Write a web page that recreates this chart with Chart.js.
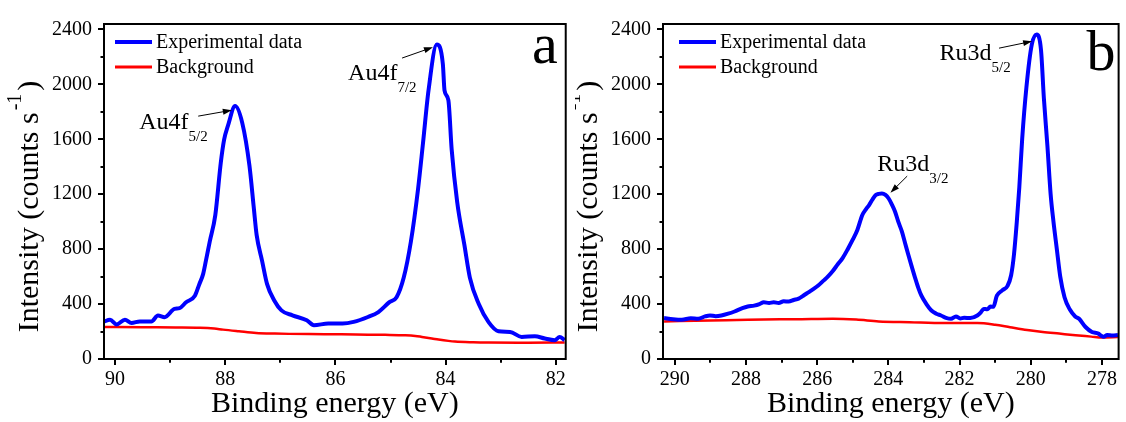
<!DOCTYPE html>
<html>
<head>
<meta charset="utf-8">
<script src="https://cdn.jsdelivr.net/npm/chart.js@4.4.1/dist/chart.umd.min.js"></script>
<style>
  body { margin: 0; background: #fff; }
  #wrap { position: relative; width: 1126px; height: 422px; background: #fff; }
  canvas { position: absolute; top: 0; }
</style>
</head>
<body>
<div id="wrap">
  <canvas id="chart-a" width="575" height="422" style="left:0"></canvas>
  <canvas id="chart-b" width="551" height="422" style="left:575px"></canvas>
</div>
<script>
// --- Data ---

const yTicks = [0, 400, 800, 1200, 1600, 2000, 2400];
const xTicksA = [90, 88, 86, 84, 82];
const xTicksB = [290, 288, 286, 284, 282, 280, 278];

// Panel a: Au4f
const auEnergy = [90.21, 90.09, 89.97, 89.82, 89.70, 89.55, 89.34, 89.22, 89.10, 88.92, 88.83, 88.71, 88.55, 88.47,
  88.40, 88.34, 88.28, 88.18, 88.08, 88.02, 87.95, 87.82, 87.69, 87.56, 87.48, 87.43, 87.33, 87.24, 87.11, 86.98,
  86.78, 86.52, 86.39, 86.13, 85.87, 85.67, 85.41, 85.22, 85.02, 84.89, 84.76, 84.63, 84.50, 84.41, 84.31, 84.16,
  84.05, 84.02, 83.95, 83.89, 83.79, 83.66, 83.56, 83.40, 83.22, 83.04, 82.83, 82.62, 82.38, 82.20, 82.02, 81.93, 81.84];
const auCounts = [270, 286, 252, 286, 262, 274, 274, 317, 305, 365, 370, 413, 461, 545,
  620, 737, 856, 1048, 1431, 1598, 1700, 1842, 1718, 1407, 1096, 904, 713, 545, 426, 354,
  318, 282, 246, 258, 258, 270, 306, 342, 414, 450, 593, 856, 1239, 1574, 1957, 2290,
  2148, 1957, 1885, 1526, 1144, 833, 593, 402, 269, 202, 197, 161, 166, 149, 137, 161, 137];
const auBgEnergy = [90.21, 89.5, 88.9, 88.46, 88.2, 88.04, 87.75, 87.44, 87.1, 86.84, 86.2, 85.63, 85.1, 84.73,
  84.55, 84.43, 84.25, 84.13, 83.95, 83.83, 83.5, 83.22, 82.5, 81.84];
const auBgCounts = [233, 231, 230, 228, 222, 214, 202, 190, 185, 183, 181, 178, 176, 173,
  168, 161, 150, 142, 132, 127, 122, 120, 119, 120];

// Panel b: Ru3d
const ruEnergy = [290.30, 290.05, 289.80, 289.55, 289.34, 289.15, 289.01, 288.85, 288.69, 288.50, 288.32, 288.10,
  287.95, 287.77, 287.62, 287.50, 287.35, 287.22, 287.08, 286.94, 286.80, 286.66, 286.52, 286.39, 286.25, 286.11,
  285.97, 285.83, 285.70, 285.56, 285.42, 285.28, 285.14, 285.00, 284.87, 284.73, 284.63, 284.54, 284.45, 284.36,
  284.27, 284.18, 284.08, 283.99, 283.90, 283.81, 283.72, 283.62, 283.53, 283.44, 283.35, 283.25, 283.16, 283.07,
  282.93, 282.79, 282.65, 282.52, 282.38, 282.24, 282.10, 281.98, 281.87, 281.70, 281.50, 281.40, 281.32, 281.22,
  281.13, 281.05, 280.95, 280.80, 280.65, 280.55, 280.47, 280.39, 280.32, 280.24, 280.12, 279.97, 279.83, 279.71,
  279.63, 279.53, 279.44, 279.36, 279.27, 279.17, 279.05, 278.90, 278.75, 278.64, 278.46, 278.28, 278.10, 278.02,
  277.95, 277.85, 277.70, 277.55];
const ruCounts = [298, 290, 286, 296, 293, 310, 317, 312, 317, 330, 346, 370,
  382, 389, 400, 413, 408, 413, 408, 420, 418, 430, 440, 461, 485, 509,
  535, 569, 600, 641, 690, 737, 800, 869, 940, 1049, 1090, 1121, 1160, 1193,
  1203, 1205, 1195, 1169, 1125, 1073, 1000, 929, 845, 761, 680, 593, 520, 461,
  400, 353, 330, 317, 300, 293, 310, 295, 300, 298, 317, 340, 365, 362,
  382, 380, 461, 500, 533, 610, 760, 1000, 1250, 1600, 1980, 2290, 2364, 2250,
  1900, 1550, 1200, 1000, 809, 600, 450, 360, 310, 293, 233, 197, 185, 170,
  162, 175, 172, 175];
const ruBgEnergy = [290.30, 289.0, 287.95, 286.5, 285.56, 284.9, 284.27, 283.4, 282.42, 281.5, 281.0, 280.58,
  280.1, 279.66, 279.2, 278.74, 278.3, 278.0, 277.55];
const ruBgCounts = [274, 280, 286, 290, 293, 287, 274, 268, 262, 262, 250, 232,
  212, 197, 185, 173, 163, 156, 160];

// Peak labels: text anchor, arrow tail and arrow tip in data units
const auNotes = [
  { main: 'Au4f', sub: '5/2', at: [89.56, 1676], from: [88.49, 1769], to: [87.88, 1812] },
  { main: 'Au4f', sub: '7/2', at: [85.77, 2030], from: [84.79, 2192], to: [84.23, 2271] },
];
const ruNotes = [
  { main: 'Ru3d', sub: '5/2', at: [282.56, 2178], from: [280.89, 2264], to: [279.96, 2314] },
  { main: 'Ru3d', sub: '3/2', at: [284.31, 1368], from: [283.47, 1332], to: [283.94, 1211] },
];

const SERIF = "'Liberation Serif', 'Times New Roman', serif";

function toPoints(xs, ys) {
  return xs.map((v, i) => ({ x: v, y: ys[i] }));
}

// Frame, minor ticks, legend, labels and y title
const decorPlugin = {
  id: 'decor',
  afterDraw(chart, args, opts) {
    const { ctx, chartArea: area } = chart;
    const xs = chart.scales.x;
    const ys = chart.scales.y;
    ctx.save();

    // box
    ctx.strokeStyle = '#000';
    ctx.lineWidth = 2;
    ctx.strokeRect(area.left, area.top, area.right - area.left, area.bottom - area.top);

    // x ticks (major + minor, outside)
    const xStep = Math.abs(opts.xTicks[0] - opts.xTicks[1]);
    opts.xTicks.forEach(v => {
      [[v, 6], [v - xStep / 2, 3.5], [v + xStep / 2, 3.5]].forEach(([t, len]) => {
        if (t < xs.min || t > xs.max) return;
        const px = Math.round(xs.getPixelForValue(t));
        ctx.beginPath();
        ctx.moveTo(px, area.bottom);
        ctx.lineTo(px, area.bottom + len);
        ctx.stroke();
      });
    });
    // y ticks
    const yStep = yTicks[1] - yTicks[0];
    yTicks.forEach(v => {
      [[v, 6], [v + yStep / 2, 3.5]].forEach(([t, len]) => {
        if (t < ys.min || t > ys.max) return;
        const py = Math.round(ys.getPixelForValue(t));
        ctx.beginPath();
        ctx.moveTo(area.left - len, py);
        ctx.lineTo(area.left, py);
        ctx.stroke();
      });
    });

    // legend inside plot
    ctx.font = `20px ${SERIF}`;
    ctx.textBaseline = 'middle';
    ctx.fillStyle = '#000';
    chart.data.datasets.forEach((ds, i) => {
      const ly = area.top + 18 + i * 25;
      ctx.strokeStyle = ds.borderColor;
      ctx.lineWidth = i === 0 ? 4 : 3;
      ctx.beginPath();
      ctx.moveTo(area.left + opts.legendX, ly);
      ctx.lineTo(area.left + opts.legendX + 37, ly);
      ctx.stroke();
      ctx.fillText(ds.label, area.left + opts.legendX + 41, ly + 1);
    });

    // peak labels with arrows
    ctx.textBaseline = 'alphabetic';
    ctx.strokeStyle = '#000';
    ctx.fillStyle = '#000';
    opts.notes.forEach(n => {
      const tx = xs.getPixelForValue(n.at[0]);
      const ty = ys.getPixelForValue(n.at[1]);
      ctx.font = `24px ${SERIF}`;
      ctx.fillText(n.main, tx, ty);
      const w = ctx.measureText(n.main).width;
      ctx.font = `15px ${SERIF}`;
      ctx.fillText(n.sub, tx + w, ty + 12);

      const x0 = xs.getPixelForValue(n.from[0]);
      const y0 = ys.getPixelForValue(n.from[1]);
      const x1 = xs.getPixelForValue(n.to[0]);
      const y1 = ys.getPixelForValue(n.to[1]);
      const ang = Math.atan2(y1 - y0, x1 - x0);
      ctx.lineWidth = 1;
      ctx.beginPath();
      ctx.moveTo(x0, y0);
      ctx.lineTo(x1 - 6 * Math.cos(ang), y1 - 6 * Math.sin(ang));
      ctx.stroke();
      ctx.beginPath();
      ctx.moveTo(x1, y1);
      ctx.lineTo(x1 - 9 * Math.cos(ang) + 3 * Math.sin(ang), y1 - 9 * Math.sin(ang) - 3 * Math.cos(ang));
      ctx.lineTo(x1 - 9 * Math.cos(ang) - 3 * Math.sin(ang), y1 - 9 * Math.sin(ang) + 3 * Math.cos(ang));
      ctx.closePath();
      ctx.fill();
    });

    // panel letter
    ctx.font = `58px ${SERIF}`;
    ctx.textAlign = 'right';
    ctx.fillText(opts.letter, area.right - opts.letterDx, area.top + opts.letterDy);

    // y title with superscript
    ctx.textAlign = 'left';
    ctx.translate(area.left - 76, (area.top + area.bottom) / 2 + 15);
    ctx.rotate(-Math.PI / 2);
    ctx.font = `30px ${SERIF}`;
    const part1 = 'Intensity (counts s';
    const w1 = ctx.measureText(part1).width;
    const w3 = ctx.measureText(')').width;
    ctx.font = `20px ${SERIF}`;
    const w2 = ctx.measureText('-1').width + 5;
    const sx = -(w1 + w2 + w3) / 2;
    ctx.font = `30px ${SERIF}`;
    ctx.fillText(part1, sx, 10);
    ctx.font = `20px ${SERIF}`;
    ctx.fillText('-1', sx + w1 + 2, -7);
    ctx.font = `30px ${SERIF}`;
    ctx.fillText(')', sx + w1 + w2, 10);

    ctx.restore();
  },
};

function buildChart(id, cfg) {
  return new Chart(document.getElementById(id), {
    type: 'line',
    data: {
      datasets: [{
        label: 'Experimental data',
        data: toPoints(cfg.expE, cfg.expI),
        borderColor: '#0000FF',
        borderWidth: 4,
        pointRadius: 0,
        cubicInterpolationMode: 'monotone',
        fill: false,
      }, {
        label: 'Background',
        data: toPoints(cfg.bgE, cfg.bgI),
        borderColor: '#FF0000',
        borderWidth: 2.5,
        pointRadius: 0,
        cubicInterpolationMode: 'monotone',
        fill: false,
      }],
    },
    options: {
      responsive: false,
      devicePixelRatio: 1,
      animation: false,
      events: [],
      layout: { padding: { top: 19, right: cfg.padRight, left: 0, bottom: 0 } },
      plugins: {
        legend: { display: false },
        tooltip: { enabled: false },
        decor: {
          xTicks: cfg.xTicks,
          notes: cfg.notes,
          legendX: cfg.legendX,
          letter: cfg.letter,
          letterDx: cfg.letterDx,
          letterDy: cfg.letterDy,
        },
      },
      scales: {
        x: {
          type: 'linear',
          min: cfg.xMin,
          max: cfg.xMax,
          reverse: true,
          afterBuildTicks: s => { s.ticks = cfg.xTicks.map(v => ({ value: v })); },
          afterFit: s => { s.height = 63; },
          grid: { display: false, drawTicks: false },
          border: { display: false },
          ticks: {
            font: { family: SERIF, size: 20 },
            color: '#000',
            padding: 9,
            maxRotation: 0,
            autoSkip: false,
            callback: v => String(v),
          },
          title: {
            display: true,
            text: 'Binding energy (eV)',
            font: { family: SERIF, size: 30 },
            color: '#000',
            padding: { top: 0, bottom: 0 },
          },
        },
        y: {
          min: 0,
          max: 2440,
          afterBuildTicks: s => { s.ticks = yTicks.map(v => ({ value: v })); },
          afterFit: s => { s.width = cfg.yWidth; },
          grid: { display: false, drawTicks: false },
          border: { display: false },
          ticks: {
            font: { family: SERIF, size: 20 },
            color: '#000',
            padding: 12,
            callback: v => String(v),
          },
        },
      },
    },
    plugins: [decorPlugin],
  });
}

buildChart('chart-a', {
  expE: auEnergy, expI: auCounts, bgE: auBgEnergy, bgI: auBgCounts,
  xMin: 81.82, xMax: 90.2, xTicks: xTicksA, notes: auNotes,
  yWidth: 104, padRight: 9, legendX: 11, letter: 'a', letterDx: 8, letterDy: 39,
});

buildChart('chart-b', {
  expE: ruEnergy, expI: ruCounts, bgE: ruBgEnergy, bgI: ruBgCounts,
  xMin: 277.53, xMax: 290.33, xTicks: xTicksB, notes: ruNotes,
  yWidth: 88, padRight: 3, legendX: 16, letter: 'b', letterDx: 3, letterDy: 46,
});
</script>
</body>
</html>
